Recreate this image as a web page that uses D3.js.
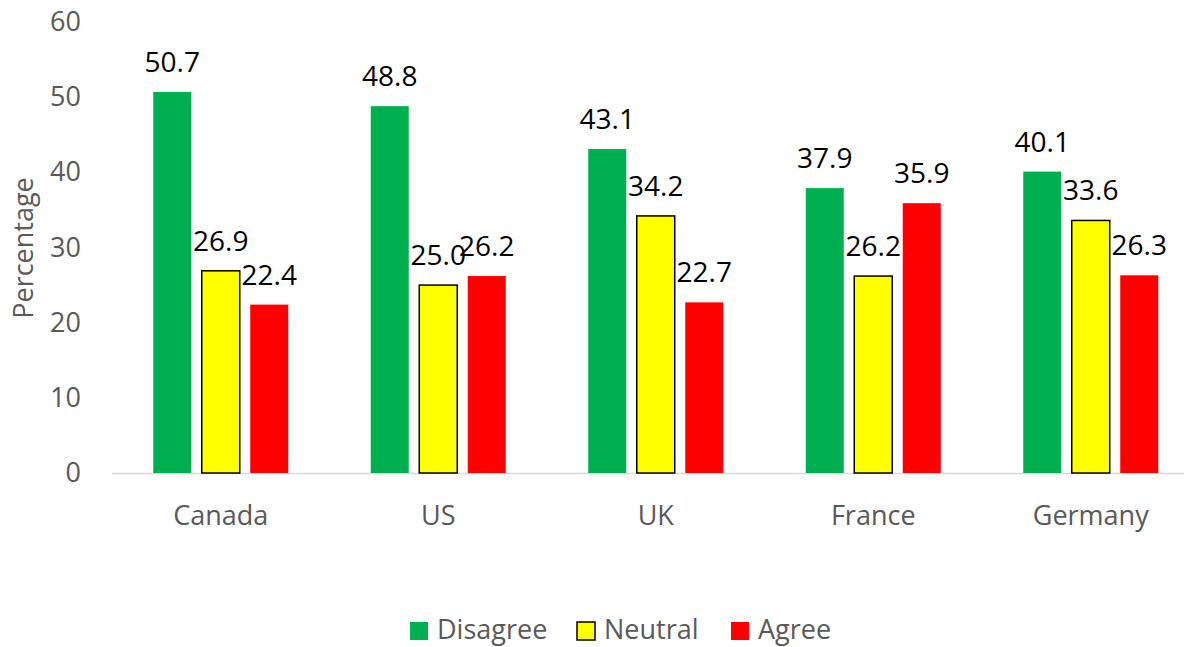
<!DOCTYPE html>
<html><head><meta charset="utf-8">
<script src="https://cdn.jsdelivr.net/npm/d3@7"></script>
<style>body{margin:0;background:#fff;}svg{display:block;font-family:"Open Sans",sans-serif;}</style>
</head><body>
<svg id="c" width="1184" height="647"></svg>
<script>
const categories = ["Canada","US","UK","France","Germany"];
const seriesNames = ["Disagree","Neutral","Agree"];
const disagree = [50.7,48.8,43.1,37.9,40.1];
const neutral = [26.9,25.0,34.2,26.2,33.6];
const agree = [22.4,26.2,22.7,35.9,26.3];
const yTicks = [0,10,20,30,40,50,60];
const colors = ["#00B050","#FFFF00","#FF0000"];
const seriesVals = [disagree, neutral, agree];

const svg = d3.select("#c");
const x0 = 112, x1 = 1199.5, yB = 473, yT = 22;
const x = d3.scaleBand().domain(categories).range([x0,x1]).paddingInner(0).paddingOuter(0);
const y = d3.scaleLinear().domain([0,60]).range([yB,yT]);
const groupW = 135;
const inner = d3.scaleBand().domain(seriesNames).range([0,groupW]).paddingInner(0.2165).paddingOuter(0);
const groupOffset = (x.bandwidth()-groupW)/2;

// axis
svg.append("line").attr("x1",x0).attr("x2",x1).attr("y1",yB+0.5).attr("y2",yB+0.5)
  .attr("stroke","#D9D9D9").attr("stroke-width",1.5);

const yAxis = d3.axisLeft(y).tickValues(yTicks).tickSize(0).tickPadding(0);
const ga = svg.append("g").attr("transform",`translate(81,0)`).call(yAxis);
ga.select(".domain").remove();
ga.selectAll("text").attr("fill","#595959").style("font-size","27px").style("font-family","'Open Sans',sans-serif");

const xAxis = d3.axisBottom(x).tickSize(0).tickPadding(0);
const gx = svg.append("g").attr("transform",`translate(0,${yB})`).call(xAxis);
gx.select(".domain").remove();
gx.selectAll("text").attr("fill","#595959").attr("dy",null).attr("y",52)
  .style("font-size","27px").style("font-family","'Open Sans',sans-serif");

// bars
seriesNames.forEach((s,si)=>{
  const g = svg.append("g");
  categories.forEach((c,ci)=>{
    const v = seriesVals[si][ci];
    const bx = x(c)+groupOffset+inner(s);
    const bw = inner.bandwidth();
    g.append("rect").attr("x",bx).attr("y",y(v)).attr("width",bw).attr("height",yB-y(v))
      .attr("fill",colors[si])
      .attr("stroke", si===1 ? "#000" : "none").attr("stroke-width", si===1?1.5:0);
    g.append("text").attr("x",bx+bw/2).attr("y",y(v)-20).attr("text-anchor","middle")
      .attr("fill","#000").style("font-size","28px").text(v.toFixed(1));
  });
});

// y title
svg.append("text").attr("transform","translate(33,248) rotate(-90)").attr("text-anchor","middle")
  .attr("fill","#595959").style("font-size","27px").text("Percentage");

// legend
const legX = [410,577,731];
seriesNames.forEach((s,i)=>{
  svg.append("rect").attr("x",legX[i]).attr("y",622).attr("width",18).attr("height",18)
    .attr("fill",colors[i]).attr("stroke", i===1?"#000":"none").attr("stroke-width",1.5);
  svg.append("text").attr("x",legX[i]+27).attr("y",639).attr("fill","#595959")
    .style("font-size","27px").text(s);
});
</script>
</body></html>
